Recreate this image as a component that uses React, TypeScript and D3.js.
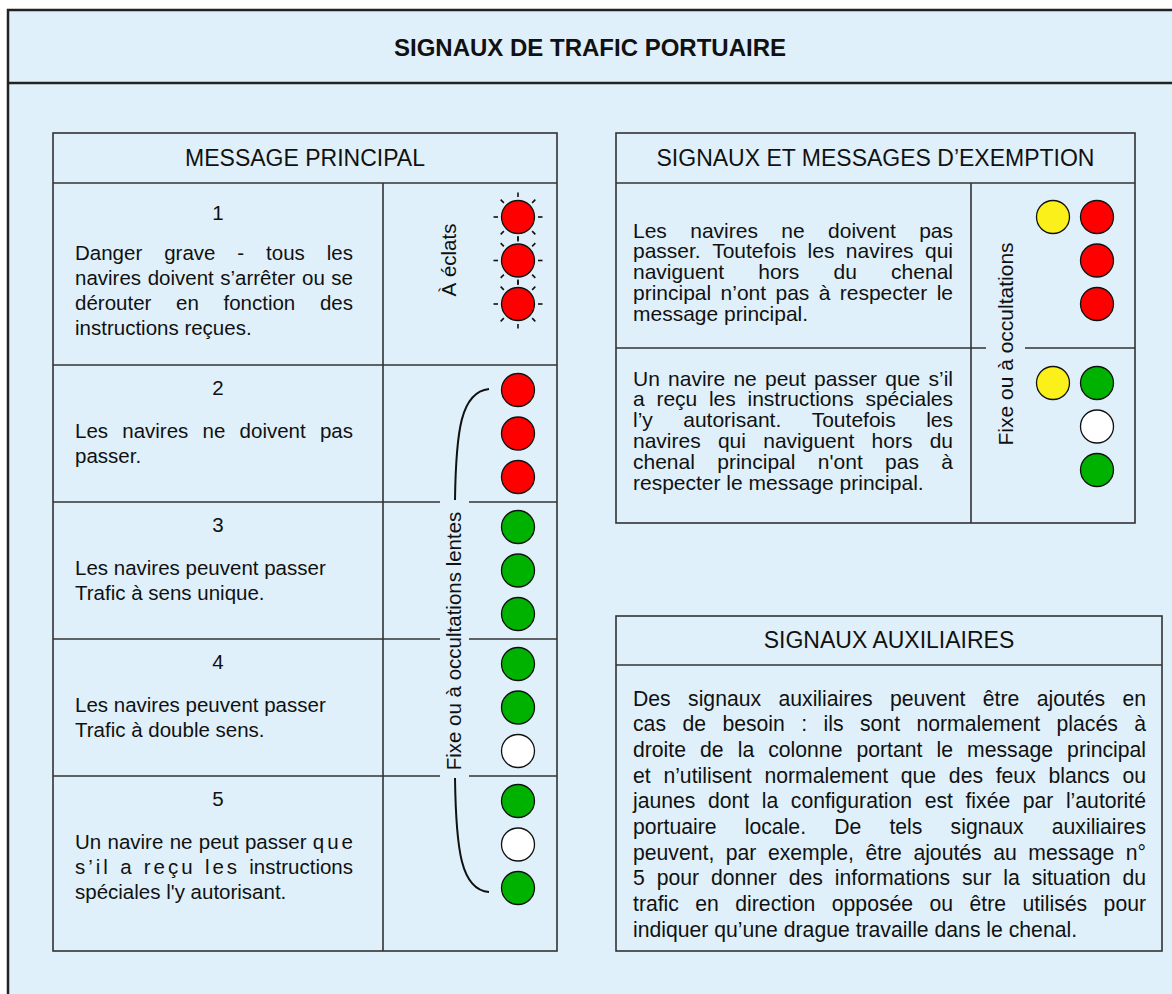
import React from 'react';
import * as d3 from 'd3';

const titleText = 'SIGNAUX DE TRAFIC PORTUAIRE';

const mainHeader = 'MESSAGE PRINCIPAL';
const messageNumbers = ['1', '2', '3', '4', '5'];
const messageLines = [
  ['Danger grave - tous les', 'navires doivent s’arrêter ou se', 'dérouter en fonction des', 'instructions reçues.'],
  ['Les navires ne doivent pas', 'passer.'],
  ['Les navires peuvent passer', 'Trafic à sens unique.'],
  ['Les navires peuvent passer', 'Trafic à double sens.'],
  ['Un navire ne peut passer que', 's’il a reçu les instructions', 'spéciales l\'y autorisant.'],
];
// how many lines of each message are justified
const messageJustified = [3, 1, 0, 0, 2];
// words set with loose letter spacing in the original
const messageSpaced = [[], [], [], [], ['que', 's’il', 'a', 'reçu', 'les']];
const messageLights = [
  ['red', 'red', 'red'],
  ['red', 'red', 'red'],
  ['green', 'green', 'green'],
  ['green', 'green', 'white'],
  ['green', 'white', 'green'],
];
const flashingLabel = 'À éclats';
const steadyLabel = 'Fixe ou à occultations lentes';

const exemptHeader = 'SIGNAUX ET MESSAGES D’EXEMPTION';
const exemptLines = [
  ['Les navires ne doivent pas', 'passer. Toutefois les navires qui', 'naviguent hors du chenal', 'principal n’ont pas à respecter le', 'message principal.'],
  ['Un navire ne peut passer que s’il', 'a reçu les instructions spéciales', 'l’y autorisant. Toutefois les', 'navires qui naviguent hors du', 'chenal principal n\'ont pas à', 'respecter le message principal.'],
];
const exemptLights = [
  ['red', 'red', 'red'],
  ['green', 'white', 'green'],
];
const exemptExtra = ['yellow', 'yellow'];
const exemptLabel = 'Fixe ou à occultations';

const auxHeader = 'SIGNAUX AUXILIAIRES';
const auxLines = [
  'Des signaux auxiliaires peuvent être ajoutés en',
  'cas de besoin : ils sont normalement placés à',
  'droite de la colonne portant le message principal',
  'et n’utilisent normalement que des feux blancs ou',
  'jaunes dont la configuration est fixée par l’autorité',
  'portuaire locale. De tels signaux auxiliaires',
  'peuvent, par exemple, être ajoutés au message n°',
  '5 pour donner des informations sur la situation du',
  'trafic en direction opposée ou être utilisés pour',
  'indiquer qu’une drague travaille dans le chenal.',
];

const colors = { red: '#ff0000', green: '#00b200', white: '#ffffff', yellow: '#fbf01a' };
const FONT = '"Liberation Sans", Arial, Helvetica, sans-serif';
const BG = '#dff0fa';
const INK = '#111';
const LINE = '#333';

const W = 1172;
const H = 994;
const SPACING = 3;

const canvas = typeof document !== 'undefined' ? document.createElement('canvas') : null;
const ctx = canvas ? canvas.getContext('2d') : null;
function textWidth(s: string, size: number) {
  if (!ctx) return s.length * size * 0.5;
  ctx.font = `${size}px "Liberation Sans"`;
  return ctx.measureText(s).width;
}

function Line({ text, x, y, width, size, justify, spaced = [] }) {
  if (!justify) {
    return <text x={x} y={y} fontSize={size} dominantBaseline="central">{text}</text>;
  }
  const words = text.split(' ');
  const loose = words.map(w => spaced.includes(w));
  const widths = words.map((w, i) => textWidth(w, size) + (loose[i] ? SPACING * (w.length - 1) : 0));
  const total = d3.sum(widths);
  const gap = (width - total) / (words.length - 1);
  let cx = x;
  return (
    <g>
      {words.map((w, i) => {
        const px = cx;
        cx += widths[i] + gap;
        return (
          <text key={i} x={px} y={y} fontSize={size} dominantBaseline="central"
            style={loose[i] ? { letterSpacing: `${SPACING}px` } : undefined}>{w}</text>
        );
      })}
    </g>
  );
}

function Para({ lines, x, width, y0, lh, size, nJust, spaced = [] }) {
  return (
    <g>
      {lines.map((l, i) => (
        <Line key={i} text={l} x={x} y={y0 + i * lh} width={width} size={size} justify={i < nJust} spaced={spaced} />
      ))}
    </g>
  );
}

function Light({ cx, cy, color, flashing = false }) {
  const r = 16.5;
  const rays = d3.range(8).map(k => (k * Math.PI) / 4);
  return (
    <g>
      {flashing && rays.map((a, i) => (
        <line key={i}
          x1={cx + Math.sin(a) * 20} y1={cy - Math.cos(a) * 20}
          x2={cx + Math.sin(a) * 24.5} y2={cy - Math.cos(a) * 24.5}
          stroke={INK} strokeWidth={1.6} />
      ))}
      <circle cx={cx} cy={cy} r={r} fill={colors[color]} stroke={INK} strokeWidth={1.3} />
    </g>
  );
}

export default function App() {
  // left table layout
  const L = { x0: 53, x1: 557, div: 383, top: 133, head: 183, bottom: 951 };
  const rowTops = [183, 365, 502, 639, 776];
  const rowBottoms = [...rowTops.slice(1), L.bottom];
  const lightX = 518;
  const gapX = [440, 469];

  // exemption table
  const E = { x0: 616, x1: 1135, div: 971, top: 133, head: 183, mid: 348, bottom: 523 };
  const exemptTops = [E.head, E.mid];
  const exGap = [986, 1025];

  // auxiliary box
  const A = { x0: 616, x1: 1162, top: 616, head: 665, bottom: 951 };

  const lightY = (top: number, first: number) =>
    d3.scaleLinear().domain([0, 2]).range([top + first, top + first + 87]);

  const bracketTop = d3.path();
  bracketTop.moveTo(455, 500);
  bracketTop.bezierCurveTo(456, 430, 461, 392, 489, 389);
  const bracketBottom = d3.path();
  bracketBottom.moveTo(455, 778);
  bracketBottom.bezierCurveTo(456, 850, 461, 890, 489, 892);

  return (
    <svg width={W} height={H} style={{ position: 'absolute', left: 0, top: 0 }}
      fontFamily={FONT} fill={INK}>
      <rect x={0} y={0} width={W} height={H} fill="#fff" />
      <rect x={8} y={10} width={W + 20} height={H + 20} fill={BG} stroke="#222" strokeWidth={2.5} />
      <line x1={8} x2={W} y1={83} y2={83} stroke="#222" strokeWidth={2.5} />
      <text x={590} y={47} fontSize={24} fontWeight="bold" textAnchor="middle" dominantBaseline="central">{titleText}</text>

      {/* left table */}
      <g stroke={LINE} strokeWidth={1.6} fill="none">
        <rect x={L.x0} y={L.top} width={L.x1 - L.x0} height={L.bottom - L.top} />
        <line x1={L.x0} x2={L.x1} y1={L.head} y2={L.head} />
        <line x1={L.div} x2={L.div} y1={L.head} y2={L.bottom} />
        <line x1={L.x0} x2={L.x1} y1={rowTops[1]} y2={rowTops[1]} />
        {rowTops.slice(2).map((y, i) => (
          <g key={i}>
            <line x1={L.x0} x2={gapX[0]} y1={y} y2={y} />
            <line x1={gapX[1]} x2={L.x1} y1={y} y2={y} />
          </g>
        ))}
      </g>
      <text x={(L.x0 + L.x1) / 2} y={158} fontSize={23} textAnchor="middle" dominantBaseline="central">{mainHeader}</text>
      {messageNumbers.map((n, i) => {
        const numY = rowTops[i] + (i === 0 ? 29 : 22);
        const textY = numY + (i === 0 ? 40 : 43);
        return (
          <g key={n}>
            <text x={(L.x0 + L.div) / 2} y={numY} fontSize={20.5} textAnchor="middle" dominantBaseline="central">{n}</text>
            <Para lines={messageLines[i]} x={75} width={278} y0={textY} lh={25} size={20.5}
              nJust={messageJustified[i]} spaced={messageSpaced[i]} />
          </g>
        );
      })}
      {messageLights.map((row, i) => {
        const y = lightY(rowTops[i], i === 0 ? 34 : 25);
        return row.map((c, j) => (
          <Light key={`${i}-${j}`} cx={lightX} cy={y(j)} color={c} flashing={i === 0} />
        ));
      })}
      <text transform={`translate(448,${(rowTops[0] + rowBottoms[0]) / 2 - 14}) rotate(-90)`} fontSize={20.5}
        textAnchor="middle" dominantBaseline="central">{flashingLabel}</text>
      <text transform={`translate(453,641) rotate(-90)`} fontSize={20.5}
        textAnchor="middle" dominantBaseline="central">{steadyLabel}</text>
      <path d={bracketTop.toString()} fill="none" stroke={INK} strokeWidth={2} />
      <path d={bracketBottom.toString()} fill="none" stroke={INK} strokeWidth={2} />

      {/* exemption table */}
      <g stroke={LINE} strokeWidth={1.6} fill="none">
        <rect x={E.x0} y={E.top} width={E.x1 - E.x0} height={E.bottom - E.top} />
        <line x1={E.x0} x2={E.x1} y1={E.head} y2={E.head} />
        <line x1={E.div} x2={E.div} y1={E.head} y2={E.bottom} />
        <line x1={E.x0} x2={exGap[0]} y1={E.mid} y2={E.mid} />
        <line x1={exGap[1]} x2={E.x1} y1={E.mid} y2={E.mid} />
      </g>
      <text x={(E.x0 + E.x1) / 2} y={158} fontSize={23} textAnchor="middle" dominantBaseline="central">{exemptHeader}</text>
      {exemptLines.map((lines, i) => (
        <Para key={i} lines={lines} x={633} width={320} y0={exemptTops[i] + (i === 0 ? 47 : 30)} lh={20.8} size={21}
          nJust={lines.length - 1} />
      ))}
      {exemptLights.map((row, i) => {
        const y = lightY(exemptTops[i], i === 0 ? 34 : 35);
        return (
          <g key={i}>
            <Light cx={1053} cy={y(0)} color={exemptExtra[i]} />
            {row.map((c, j) => <Light key={j} cx={1097} cy={y(j)} color={c} />)}
          </g>
        );
      })}
      <text transform={`translate(1005,344) rotate(-90)`} fontSize={21}
        textAnchor="middle" dominantBaseline="central">{exemptLabel}</text>

      {/* auxiliary box */}
      <g stroke={LINE} strokeWidth={1.6} fill="none">
        <rect x={A.x0} y={A.top} width={A.x1 - A.x0} height={A.bottom - A.top} />
        <line x1={A.x0} x2={A.x1} y1={A.head} y2={A.head} />
      </g>
      <text x={(A.x0 + A.x1) / 2} y={640} fontSize={23} textAnchor="middle" dominantBaseline="central">{auxHeader}</text>
      <Para lines={auxLines} x={633} width={513} y0={698} lh={25.7} size={21.2} nJust={auxLines.length - 1} />
    </svg>
  );
}
